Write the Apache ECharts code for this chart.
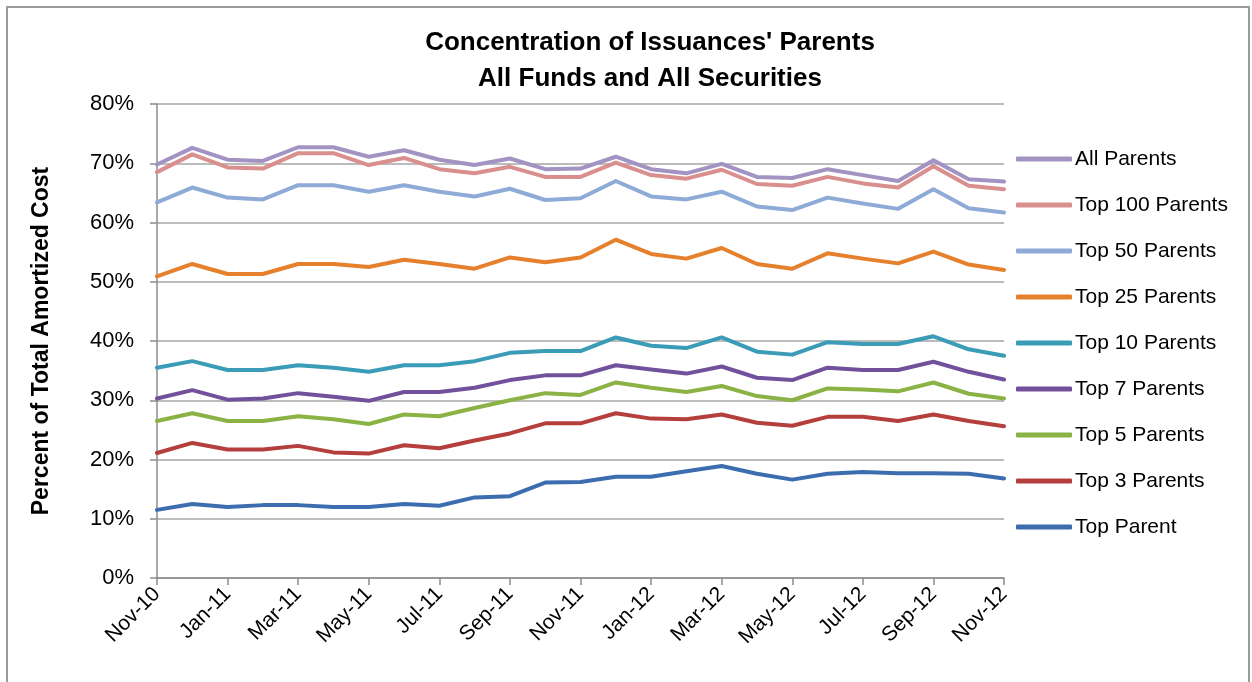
<!DOCTYPE html>
<html>
<head>
<meta charset="utf-8">
<script src="https://cdn.jsdelivr.net/npm/echarts@6/dist/echarts.min.js"></script>
<style>
  html, body { margin: 0; padding: 0; background: #fff; }
  #chart { width: 1252px; height: 682px; }
</style>
</head>
<body>
<div id="chart"></div>
<script>
const months = ["Nov-10", "Dec-10", "Jan-11", "Feb-11", "Mar-11", "Apr-11", "May-11", "Jun-11", "Jul-11",
  "Aug-11", "Sep-11", "Oct-11", "Nov-11", "Dec-11", "Jan-12", "Feb-12", "Mar-12", "Apr-12", "May-12",
  "Jun-12", "Jul-12", "Aug-12", "Sep-12", "Oct-12", "Nov-12"]

const allParents = [69.8, 72.6, 70.6, 70.4, 72.7, 72.7, 71.1, 72.2, 70.6, 69.7, 70.8, 69.0, 69.1, 71.1, 69.0, 68.3, 69.9, 67.7, 67.5, 69.0, 68.0, 67.0, 70.5, 67.3, 66.9]
const top100 = [68.5, 71.5, 69.3, 69.1, 71.7, 71.7, 69.7, 70.9, 69.0, 68.3, 69.4, 67.7, 67.7, 70.1, 68.0, 67.4, 68.9, 66.5, 66.2, 67.7, 66.6, 65.9, 69.5, 66.2, 65.6]
const top50 = [63.4, 65.9, 64.2, 63.9, 66.3, 66.3, 65.2, 66.3, 65.2, 64.4, 65.7, 63.8, 64.1, 67.0, 64.4, 63.9, 65.2, 62.7, 62.1, 64.2, 63.2, 62.3, 65.6, 62.4, 61.7]
const top25 = [50.9, 53.0, 51.3, 51.3, 53.0, 53.0, 52.5, 53.7, 53.0, 52.2, 54.1, 53.3, 54.1, 57.1, 54.7, 53.9, 55.7, 53.0, 52.2, 54.8, 53.9, 53.1, 55.1, 52.9, 52.0]
const top10 = [35.5, 36.6, 35.1, 35.1, 35.9, 35.5, 34.8, 35.9, 35.9, 36.6, 38.0, 38.3, 38.3, 40.6, 39.2, 38.8, 40.6, 38.2, 37.7, 39.8, 39.5, 39.5, 40.8, 38.6, 37.5]
const top7 = [30.3, 31.7, 30.1, 30.3, 31.2, 30.6, 29.9, 31.4, 31.4, 32.1, 33.4, 34.2, 34.2, 35.9, 35.2, 34.5, 35.7, 33.8, 33.4, 35.5, 35.1, 35.1, 36.5, 34.8, 33.5]
const top5 = [26.5, 27.8, 26.5, 26.5, 27.3, 26.8, 26.0, 27.6, 27.3, 28.7, 30.0, 31.2, 30.9, 33.0, 32.1, 31.4, 32.4, 30.7, 30.0, 32.0, 31.8, 31.5, 33.0, 31.1, 30.3]
const top3 = [21.1, 22.8, 21.7, 21.7, 22.3, 21.2, 21.0, 22.4, 21.9, 23.2, 24.4, 26.1, 26.1, 27.8, 26.9, 26.8, 27.6, 26.2, 25.7, 27.2, 27.2, 26.5, 27.6, 26.5, 25.6]
const topParent = [11.5, 12.5, 12.0, 12.3, 12.3, 12.0, 12.0, 12.5, 12.2, 13.6, 13.8, 16.1, 16.2, 17.1, 17.1, 18.0, 18.9, 17.6, 16.6, 17.6, 17.9, 17.7, 17.7, 17.6, 16.8]

const seriesDefs = [
  { name: "All Parents", data: allParents, color: "#a293c2" },
  { name: "Top 100 Parents", data: top100, color: "#d98f8d" },
  { name: "Top 50 Parents", data: top50, color: "#8eaad7" },
  { name: "Top 25 Parents", data: top25, color: "#e5802d" },
  { name: "Top 10 Parents", data: top10, color: "#3a9cb6" },
  { name: "Top 7 Parents", data: top7, color: "#71519b" },
  { name: "Top 5 Parents", data: top5, color: "#8bb244" },
  { name: "Top 3 Parents", data: top3, color: "#b43f3c" },
  { name: "Top Parent", data: topParent, color: "#3c6eaf" }
]

const font = "'Liberation Sans', Arial, sans-serif"
const chart = echarts.init(document.getElementById("chart"), null, { renderer: "canvas" })

chart.setOption({
  animation: false,
  textStyle: { fontFamily: font },
  title: {
    text: "Concentration of Issuances' Parents\nAll Funds and All Securities",
    left: 645,
    top: 20,
    textAlign: "center",
    textStyle: { fontSize: 26, fontWeight: "bold", color: "#000", lineHeight: 36, fontFamily: font }
  },
  legend: {
    orient: "vertical",
    left: 1011,
    top: 143,
    itemWidth: 56,
    itemHeight: 5,
    itemGap: 24,
    icon: "roundRect",
    data: seriesDefs.map((s) => s.name),
    textStyle: { fontSize: 21, color: "#000", lineHeight: 22, padding: [0, 0, 0, -2], fontFamily: font }
  },
  grid: { left: 157, right: 248, top: 104, bottom: 104, containLabel: false },
  xAxis: {
    type: "category",
    data: months,
    boundaryGap: false,
    axisLine: { lineStyle: { color: "#8c8c8c", width: 1.5 } },
    axisTick: { interval: 1, length: 7, lineStyle: { color: "#8c8c8c", width: 1.5 } },
    axisLabel: { interval: 1, rotate: 45, fontSize: 21, color: "#000", margin: 13, fontFamily: font }
  },
  yAxis: {
    type: "value",
    min: 0,
    max: 80,
    interval: 10,
    name: "Percent of Total Amortized Cost",
    nameLocation: "middle",
    nameGap: 104,
    nameTextStyle: { fontSize: 23, fontWeight: "bold", color: "#000", fontFamily: font },
    axisLine: { show: true, lineStyle: { color: "#8c8c8c", width: 1.5 } },
    axisTick: { show: true, length: 7, inside: false, lineStyle: { color: "#8c8c8c", width: 1.5 } },
    axisLabel: { formatter: "{value}%", fontSize: 22, color: "#000", margin: 23, fontFamily: font },
    splitLine: { lineStyle: { color: "#a6a6a6", width: 1.5 } }
  },
  graphic: [{
    type: "rect",
    shape: { x: 7, y: 7, width: 1242, height: 690 },
    style: { fill: "none", stroke: "#9a9a9a", lineWidth: 2 },
    silent: true
  }],
  series: seriesDefs.map((s) => ({
    name: s.name,
    type: "line",
    data: s.data,
    color: s.color,
    showSymbol: false,
    symbol: "none",
    lineStyle: { width: 4, color: s.color, cap: "round", join: "round" },
    itemStyle: { color: s.color }
  }))
})
</script>
</body>
</html>
